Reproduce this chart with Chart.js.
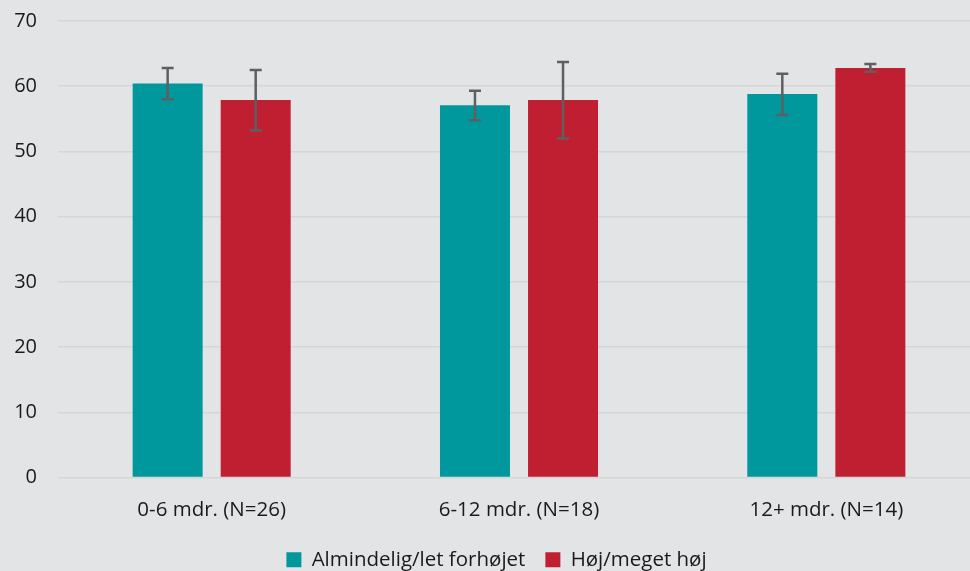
<!DOCTYPE html>
<html>
<head>
<meta charset="utf-8">
<script src="https://cdn.jsdelivr.net/npm/chart.js@4.4.0/dist/chart.umd.min.js"></script>
<style>
  html, body { margin: 0; padding: 0; background: #e3e4e6; overflow: hidden; }
  #wrap { width: 980px; height: 571px; }
</style>
</head>
<body>
<div id="wrap"><canvas id="mycanvas"></canvas></div>
<script>
var categories = ["0-6 mdr. (N=26)", "6-12 mdr. (N=18)", "12+ mdr. (N=14)"];
var almindelig = [60.4, 57.1, 58.8];
var almindeligLow = [58.0, 54.8, 55.6];
var almindeligHigh = [62.8, 59.3, 61.9];
var hoej = [57.9, 57.9, 62.8];
var hoejLow = [53.2, 52.0, 62.2];
var hoejHigh = [62.5, 63.7, 63.4];
var yTicks = [0, 10, 20, 30, 40, 50, 60, 70];

// draws the error bars on top of the bars, using the chart's own scales
var errorBars = {
  id: "errorBars",
  afterDatasetsDraw: function(chart) {
    var ctx = chart.ctx;
    var y = chart.scales.y;
    ctx.save();
    ctx.strokeStyle = "#5e5f61";
    ctx.lineWidth = 2.5;
    chart.data.datasets.forEach(function(ds, di) {
      var meta = chart.getDatasetMeta(di);
      meta.data.forEach(function(bar, i) {
        var x = bar.x;
        var top = y.getPixelForValue(ds.errHigh[i]);
        var bot = y.getPixelForValue(ds.errLow[i]);
        ctx.beginPath();
        ctx.moveTo(x, top); ctx.lineTo(x, bot);
        ctx.moveTo(x - 6, top); ctx.lineTo(x + 6, top);
        ctx.moveTo(x - 6, bot); ctx.lineTo(x + 6, bot);
        ctx.stroke();
      });
    });
    ctx.restore();
  }
};

var chartdata = {
  labels: categories,
  datasets: [
    {
      label: "Almindelig/let forhøjet",
      backgroundColor: "#00979d",
      data: almindelig,
      errLow: almindeligLow,
      errHigh: almindeligHigh
    },
    {
      label: "Høj/meget høj",
      backgroundColor: "#c01f32",
      data: hoej,
      errLow: hoejLow,
      errHigh: hoejHigh
    }
  ]
};

var ctx = document.getElementById("mycanvas");
var LineGraph = new Chart(ctx, {
  type: "bar",
  data: chartdata,
  plugins: [errorBars],
  options: {
    responsive: true,
    maintainAspectRatio: false,
    animation: false,
    layout: { padding: { top: 21, left: 13, right: 0, bottom: -9 } },
    datasets: { bar: { categoryPercentage: 0.573, barPercentage: 0.795 } },
    plugins: {
      tooltip: { enabled: false },
      legend: {
        position: "bottom",
        labels: {
          font: { family: "Open Sans", size: 20.5 },
          color: "#1a1a1a",
          boxWidth: 15,
          boxHeight: 15,
          padding: 20
        }
      }
    },
    scales: {
      x: {
        grid: { display: false },
        border: { display: false },
        afterFit: function(axis) { axis.height = 52; },
        ticks: { font: { family: "Open Sans", size: 20.5 }, color: "#1a1a1a", padding: 12 }
      },
      y: {
        min: 0,
        max: 70,
        afterBuildTicks: function(axis) {
          axis.ticks = yTicks.map(function(v) { return { value: v }; });
        },
        afterFit: function(axis) {
          axis.width = 45;
          axis.paddingTop = 0;
          axis.paddingBottom = 0;
        },
        grid: { color: "#d5d6d8", lineWidth: 1.5, drawTicks: false },
        border: { display: false },
        ticks: { font: { family: "Open Sans", size: 20 }, color: "#1a1a1a", padding: 21 }
      }
    }
  }
});
</script>
</body>
</html>
